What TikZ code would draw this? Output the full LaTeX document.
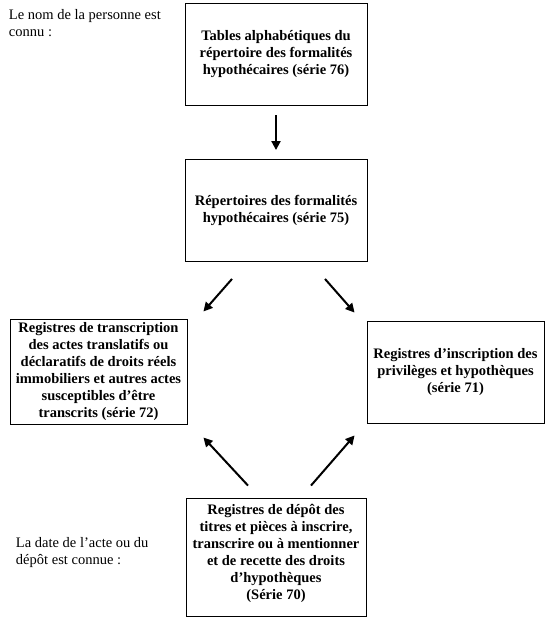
\documentclass[tikz,border=0pt]{standalone}
\usepackage{fontspec}
\setmainfont{Liberation Serif}
\usetikzlibrary{positioning,calc,arrows.meta}
\tikzstyle{registre} = [rectangle, draw, line width=0.9pt, fill=white, align=center, inner sep=3pt, font=\fontsize{14.5}{17}\selectfont\bfseries]
\tikzstyle{remarque} = [align=left, inner sep=0pt, anchor=north west, font=\fontsize{14.5}{17}\selectfont]

\begin{document}
\begin{tikzpicture}[->,>={Triangle[length=9pt,width=9pt]},line width=2pt,x=1pt,y=-1pt,on grid]
  \useasboundingbox (0,0) rectangle (554,630);

  \node[registre, minimum width=182pt, minimum height=102pt] (Tables) at (276,54) {Tables alphabétiques du\\répertoire des formalités\\hypothécaires (série 76)};
  \node[registre, minimum width=182pt, minimum height=102pt] (Repertoires) [below=156.5pt of Tables] {Répertoires des formalités\\hypothécaires (série 75)};
  \node[registre, minimum width=177pt, minimum height=102pt] (Transcription) [below left=161.5pt and 177.5pt of Repertoires] {Registres de transcription\\des actes translatifs ou\\déclaratifs de droits réels\\immobiliers et autres actes\\susceptibles d’être\\transcrits (série 72)};
  \node[registre, minimum width=177pt, minimum height=102pt] (Inscription) [right=357pt of Transcription] {Registres d’inscription des\\privilèges et hypothèques\\(série 71)};
  \node[registre, minimum width=180pt, minimum height=118pt, text depth=11pt] (Depot) [below=346.5pt of Repertoires] {Registres de dépôt des\\titres et pièces à inscrire,\\transcrire ou à mentionner\\et de recette des droits\\d’hypothèques\\(Série 70)};

  \node[remarque] (Nom) at (8,8) {Le nom de la personne est\\connu :};
  \node[remarque] (Date) at (15,536) {La date de l’acte ou du\\dépôt est connue :};

  \path (Tables) edge[shorten <=10pt, shorten >=9pt] (Repertoires);
  \path ($(Repertoires.south)+(-44,17)$) edge ($(Transcription.north east)+(16,-8)$);
  \path ($(Repertoires.south)+(49,17)$) edge ($(Inscription.north west)+(-12,-8)$);
  \path ($(Depot.north)+(-28,-12)$) edge ($(Transcription.south east)+(16,13)$);
  \path ($(Depot.north)+(35,-12)$) edge ($(Inscription.south west)+(-12,12)$);
\end{tikzpicture}
\end{document}
